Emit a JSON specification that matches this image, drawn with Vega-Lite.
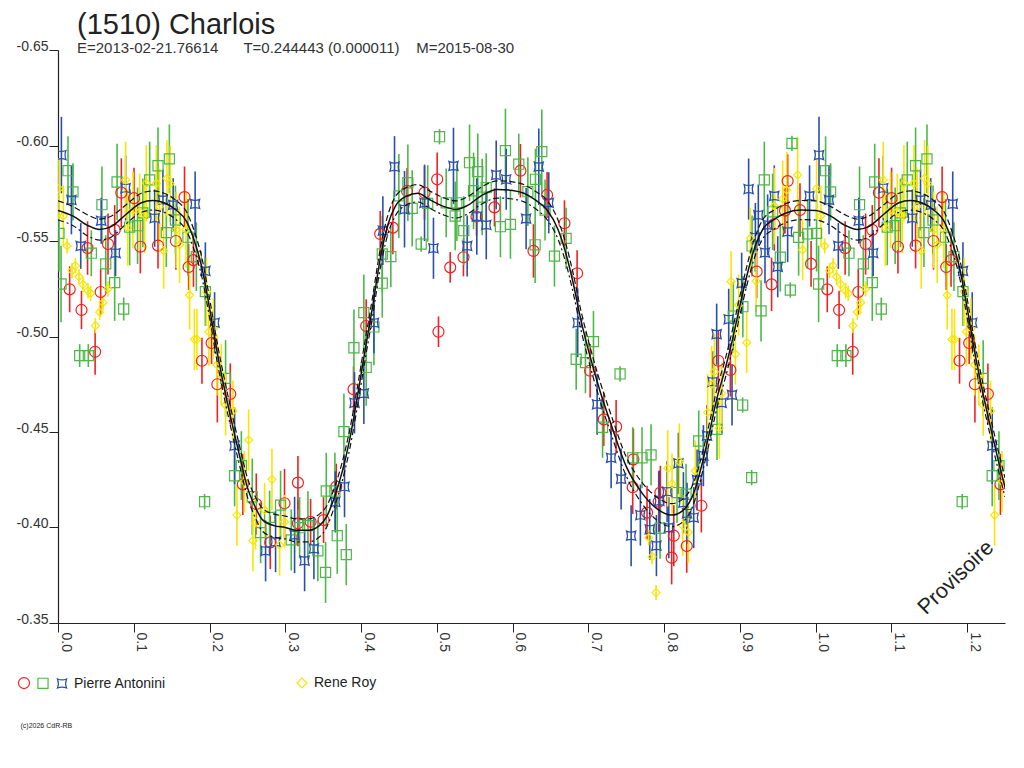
{
"$schema":"https://vega.github.io/schema/vega-lite/v6.json",
"width":947,"height":573,
"autosize":{"type":"none"},
"padding":{"left":58,"top":50,"right":19,"bottom":145},
"background":"white",
"title":{"text":"(1510) Charlois","subtitle":"E=2013-02-21.76614\u00a0\u00a0\u00a0\u00a0\u00a0\u00a0T=0.244443 (0.000011)\u00a0\u00a0\u00a0\u00a0M=2015-08-30","anchor":"start","frame":"group","offset":-17,"dx":19,"font":"Liberation Sans","fontSize":29,"fontWeight":"normal","color":"#222","subtitleFont":"Liberation Sans","subtitleFontSize":15,"subtitleColor":"#333","subtitlePadding":1},
"config":{"view":{"stroke":null},"axis":{"grid":false,"domainColor":"#222","tickColor":"#222","labelColor":"#333","labelFont":"Liberation Sans","labelFontSize":14,"titleFont":"Liberation Sans"}},
"resolve":{"legend":{"color":"independent","shape":"independent","size":"independent"}},
"datasets":{
"pts":[
{"s":"A1","p":0.0154,"m":-0.5247,"e":0.012},{"s":"A1","p":0.031,"m":-0.5139,"e":0.01},{"s":"A1","p":0.049,"m":-0.492,"e":0.012},{"s":"A1","p":0.039,"m":-0.5463,"e":0.014},{"s":"A1","p":0.0563,"m":-0.5233,"e":0.012},{"s":"A1","p":0.066,"m":-0.5484,"e":0.016},{"s":"A1","p":0.0748,"m":-0.5558,"e":0.013},{"s":"A1","p":0.0836,"m":-0.5753,"e":0.018},{"s":"A1","p":0.1003,"m":-0.5724,"e":0.016},{"s":"A1","p":0.1087,"m":-0.547,"e":0.014},{"s":"A1","p":0.132,"m":-0.5476,"e":0.012},{"s":"A1","p":0.1556,"m":-0.55,"e":0.015},{"s":"A1","p":0.167,"m":-0.573,"e":0.016},{"s":"A1","p":0.1724,"m":-0.5364,"e":0.012},{"s":"A1","p":0.1788,"m":-0.54,"e":0.014},{"s":"A1","p":0.19,"m":-0.4873,"e":0.012},{"s":"A1","p":0.2027,"m":-0.4966,"e":0.011},{"s":"A1","p":0.2103,"m":-0.475,"e":0.02},{"s":"A1","p":0.2274,"m":-0.4699,"e":0.016},{"s":"A1","p":0.244,"m":-0.4226,"e":0.016},{"s":"A1","p":0.2617,"m":-0.4123,"e":0.016},{"s":"A1","p":0.2802,"m":-0.3922,"e":0.014},{"s":"A1","p":0.299,"m":-0.4127,"e":0.018},{"s":"A1","p":0.3167,"m":-0.4235,"e":0.014},{"s":"A1","p":0.3167,"m":-0.4022,"e":0.012},{"s":"A1","p":0.3334,"m":-0.403,"e":0.012},{"s":"A1","p":0.3505,"m":-0.4039,"e":0.012},{"s":"A1","p":0.3673,"m":-0.4214,"e":0.012},{"s":"A1","p":0.3901,"m":-0.4724,"e":0.012},{"s":"A1","p":0.4068,"m":-0.5055,"e":0.014},{"s":"A1","p":0.4253,"m":-0.5537,"e":0.012},{"s":"A1","p":0.442,"m":-0.557,"e":0.014},{"s":"A1","p":0.4607,"m":-0.5762,"e":0.012},{"s":"A1","p":0.4838,"m":-0.5753,"e":0.014},{"s":"A1","p":0.5005,"m":-0.5823,"e":0.014},{"s":"A1","p":0.5022,"m":-0.5025,"e":0.008},{"s":"A1","p":0.5177,"m":-0.5362,"e":0.008},{"s":"A1","p":0.5352,"m":-0.5415,"e":0.01},{"s":"A1","p":0.5524,"m":-0.5628,"e":0.01},{"s":"A1","p":0.5761,"m":-0.5676,"e":0.01},{"s":"A1","p":0.6104,"m":-0.5868,"e":0.014},{"s":"A1","p":0.6276,"m":-0.5448,"e":0.014},{"s":"A1","p":0.6456,"m":-0.5741,"e":0.012},{"s":"A1","p":0.6685,"m":-0.5593,"e":0.012},{"s":"A1","p":0.6852,"m":-0.5331,"e":0.012},{"s":"A1","p":0.7024,"m":-0.4821,"e":0.014},{"s":"A1","p":0.7204,"m":-0.4566,"e":0.014},{"s":"A1","p":0.7367,"m":-0.4528,"e":0.014},{"s":"A1","p":0.7586,"m":-0.4211,"e":0.014},{"s":"A1","p":0.7595,"m":-0.4357,"e":0.016},{"s":"A1","p":0.7775,"m":-0.4078,"e":0.014},{"s":"A1","p":0.7929,"m":-0.4135,"e":0.016},{"s":"A1","p":0.7951,"m":-0.4183,"e":0.014},{"s":"A1","p":0.8128,"m":-0.3957,"e":0.016},{"s":"A1","p":0.81,"m":-0.3842,"e":0.014},{"s":"A1","p":0.8299,"m":-0.3903,"e":0.014},{"s":"A1","p":0.8492,"m":-0.4114,"e":0.014},{"s":"A1","p":0.8716,"m":-0.4873,"e":0.016},{"s":"A1","p":0.8875,"m":-0.4825,"e":0.014},{"s":"A1","p":0.9222,"m":-0.534,"e":0.014},{"s":"A1","p":0.9419,"m":-0.5273,"e":0.014},{"s":"A1","p":0.9455,"m":-0.5589,"e":0.014},{"s":"A1","p":0.9596,"m":-0.5659,"e":0.012},{"s":"A1","p":0.9631,"m":-0.5814,"e":0.014},{"s":"A1","p":0.9794,"m":-0.5662,"e":0.014},{"s":"A1","p":0.994,"m":-0.538,"e":0.012},
{"s":"A1","p":1.0154,"m":-0.5247,"e":0.012},{"s":"A1","p":1.031,"m":-0.5139,"e":0.01},{"s":"A1","p":1.049,"m":-0.492,"e":0.012},{"s":"A1","p":1.039,"m":-0.5463,"e":0.014},{"s":"A1","p":1.0563,"m":-0.5233,"e":0.012},{"s":"A1","p":1.066,"m":-0.5484,"e":0.016},{"s":"A1","p":1.0748,"m":-0.5558,"e":0.013},{"s":"A1","p":1.0836,"m":-0.5753,"e":0.018},{"s":"A1","p":1.1003,"m":-0.5724,"e":0.016},{"s":"A1","p":1.1087,"m":-0.547,"e":0.014},{"s":"A1","p":1.132,"m":-0.5476,"e":0.012},{"s":"A1","p":1.1556,"m":-0.55,"e":0.015},{"s":"A1","p":1.167,"m":-0.573,"e":0.016},{"s":"A1","p":1.1724,"m":-0.5364,"e":0.012},{"s":"A1","p":1.1788,"m":-0.54,"e":0.014},{"s":"A1","p":1.19,"m":-0.4873,"e":0.012},{"s":"A1","p":1.2027,"m":-0.4966,"e":0.011},{"s":"A1","p":1.2103,"m":-0.475,"e":0.02},{"s":"A1","p":1.2274,"m":-0.4699,"e":0.016},{"s":"A1","p":1.244,"m":-0.4226,"e":0.016},
{"s":"A2","p":0.0013,"m":-0.554,"e":0.02},{"s":"A2","p":0.004,"m":-0.5275,"e":0.02},{"s":"A2","p":0.0132,"m":-0.5868,"e":0.018},{"s":"A2","p":0.0198,"m":-0.5757,"e":0.015},{"s":"A2","p":0.0286,"m":-0.49,"e":0.006},{"s":"A2","p":0.04,"m":-0.49,"e":0.006},{"s":"A2","p":0.044,"m":-0.5436,"e":0.012},{"s":"A2","p":0.058,"m":-0.569,"e":0.02},{"s":"A2","p":0.063,"m":-0.538,"e":0.015},{"s":"A2","p":0.0748,"m":-0.5282,"e":0.02},{"s":"A2","p":0.078,"m":-0.5809,"e":0.02},{"s":"A2","p":0.0867,"m":-0.5144,"e":0.006},{"s":"A2","p":0.0946,"m":-0.5573,"e":0.02},{"s":"A2","p":0.105,"m":-0.558,"e":0.02},{"s":"A2","p":0.112,"m":-0.5647,"e":0.018},{"s":"A2","p":0.121,"m":-0.582,"e":0.02},{"s":"A2","p":0.132,"m":-0.5894,"e":0.02},{"s":"A2","p":0.143,"m":-0.5544,"e":0.018},{"s":"A2","p":0.147,"m":-0.593,"e":0.018},{"s":"A2","p":0.155,"m":-0.561,"e":0.018},{"s":"A2","p":0.1715,"m":-0.552,"e":0.02},{"s":"A2","p":0.1826,"m":-0.5418,"e":0.018},{"s":"A2","p":0.1935,"m":-0.4135,"e":0.004},{"s":"A2","p":0.1945,"m":-0.5235,"e":0.018},{"s":"A2","p":0.2212,"m":-0.4781,"e":0.02},{"s":"A2","p":0.2331,"m":-0.4271,"e":0.016},{"s":"A2","p":0.242,"m":-0.4324,"e":0.018},{"s":"A2","p":0.2564,"m":-0.4161,"e":0.02},{"s":"A2","p":0.2674,"m":-0.3973,"e":0.016},{"s":"A2","p":0.2793,"m":-0.4053,"e":0.014},{"s":"A2","p":0.2938,"m":-0.4117,"e":0.018},{"s":"A2","p":0.3079,"m":-0.3935,"e":0.016},{"s":"A2","p":0.3189,"m":-0.3999,"e":0.016},{"s":"A2","p":0.3299,"m":-0.401,"e":0.018},{"s":"A2","p":0.343,"m":-0.3878,"e":0.016},{"s":"A2","p":0.3532,"m":-0.3765,"e":0.016},{"s":"A2","p":0.3541,"m":-0.4191,"e":0.02},{"s":"A2","p":0.3655,"m":-0.4191,"e":0.02},{"s":"A2","p":0.3686,"m":-0.3957,"e":0.02},{"s":"A2","p":0.3805,"m":-0.3858,"e":0.016},{"s":"A2","p":0.3774,"m":-0.4502,"e":0.02},{"s":"A2","p":0.3906,"m":-0.4941,"e":0.02},{"s":"A2","p":0.4068,"m":-0.4838,"e":0.02},{"s":"A2","p":0.4037,"m":-0.5125,"e":0.02},{"s":"A2","p":0.417,"m":-0.505,"e":0.02},{"s":"A2","p":0.428,"m":-0.5432,"e":0.02},{"s":"A2","p":0.4393,"m":-0.5418,"e":0.016},{"s":"A2","p":0.428,"m":-0.5279,"e":0.018},{"s":"A2","p":0.4499,"m":-0.5736,"e":0.022},{"s":"A2","p":0.4618,"m":-0.5805,"e":0.02},{"s":"A2","p":0.4675,"m":-0.5671,"e":0.02},{"s":"A2","p":0.4794,"m":-0.5484,"e":0.004},{"s":"A2","p":0.488,"m":-0.5697,"e":0.02},{"s":"A2","p":0.5036,"m":-0.6046,"e":0.004},{"s":"A2","p":0.5124,"m":-0.57,"e":0.018},{"s":"A2","p":0.5265,"m":-0.57,"e":0.02},{"s":"A2","p":0.5243,"m":-0.5631,"e":0.018},{"s":"A2","p":0.5356,"m":-0.5554,"e":0.018},{"s":"A2","p":0.5432,"m":-0.591,"e":0.02},{"s":"A2","p":0.5541,"m":-0.5863,"e":0.02},{"s":"A2","p":0.5485,"m":-0.5763,"e":0.02},{"s":"A2","p":0.5652,"m":-0.5779,"e":0.018},{"s":"A2","p":0.5599,"m":-0.573,"e":0.02},{"s":"A2","p":0.584,"m":-0.5575,"e":0.016},{"s":"A2","p":0.5906,"m":-0.5973,"e":0.022},{"s":"A2","p":0.5972,"m":-0.5587,"e":0.018},{"s":"A2","p":0.6082,"m":-0.5902,"e":0.016},{"s":"A2","p":0.6202,"m":-0.5758,"e":0.018},{"s":"A2","p":0.6302,"m":-0.5823,"e":0.016},{"s":"A2","p":0.6386,"m":-0.5968,"e":0.022},{"s":"A2","p":0.6298,"m":-0.548,"e":0.02},{"s":"A2","p":0.6429,"m":-0.5662,"e":0.016},{"s":"A2","p":0.6553,"m":-0.5421,"e":0.016},{"s":"A2","p":0.6707,"m":-0.5514,"e":0.016},{"s":"A2","p":0.684,"m":-0.4881,"e":0.016},{"s":"A2","p":0.6962,"m":-0.4863,"e":0.016},{"s":"A2","p":0.7068,"m":-0.4973,"e":0.016},{"s":"A2","p":0.7188,"m":-0.4525,"e":0.016},{"s":"A2","p":0.7419,"m":-0.4804,"e":0.004},{"s":"A2","p":0.7586,"m":-0.4365,"e":0.016},{"s":"A2","p":0.7709,"m":-0.4365,"e":0.016},{"s":"A2","p":0.7828,"m":-0.438,"e":0.016},{"s":"A2","p":0.7947,"m":-0.3996,"e":0.016},{"s":"A2","p":0.8171,"m":-0.4183,"e":0.016},{"s":"A2","p":0.829,"m":-0.4174,"e":0.016},{"s":"A2","p":0.8457,"m":-0.4453,"e":0.016},{"s":"A2","p":0.8699,"m":-0.4514,"e":0.016},{"s":"A2","p":0.8914,"m":-0.5107,"e":0.018},{"s":"A2","p":0.904,"m":-0.5156,"e":0.016},{"s":"A2","p":0.9037,"m":-0.4641,"e":0.004},{"s":"A2","p":0.9156,"m":-0.4261,"e":0.004},{"s":"A2","p":0.9161,"m":-0.5474,"e":0.016},{"s":"A2","p":0.928,"m":-0.5134,"e":0.016},{"s":"A2","p":0.9323,"m":-0.582,"e":0.02},{"s":"A2","p":0.9433,"m":-0.5653,"e":0.02},{"s":"A2","p":0.9534,"m":-0.5415,"e":0.018},{"s":"A2","p":0.9666,"m":-0.5243,"e":0.004},{"s":"A2","p":0.9688,"m":-0.6011,"e":0.004},{"s":"A2","p":0.9776,"m":-0.5519,"e":0.02},{"s":"A2","p":0.9895,"m":-0.5537,"e":0.018},
{"s":"A2","p":1.0013,"m":-0.554,"e":0.02},{"s":"A2","p":1.004,"m":-0.5275,"e":0.02},{"s":"A2","p":1.0132,"m":-0.5868,"e":0.018},{"s":"A2","p":1.0198,"m":-0.5757,"e":0.015},{"s":"A2","p":1.0286,"m":-0.49,"e":0.006},{"s":"A2","p":1.04,"m":-0.49,"e":0.006},{"s":"A2","p":1.044,"m":-0.5436,"e":0.012},{"s":"A2","p":1.058,"m":-0.569,"e":0.02},{"s":"A2","p":1.063,"m":-0.538,"e":0.015},{"s":"A2","p":1.0748,"m":-0.5282,"e":0.02},{"s":"A2","p":1.078,"m":-0.5809,"e":0.02},{"s":"A2","p":1.0867,"m":-0.5144,"e":0.006},{"s":"A2","p":1.0946,"m":-0.5573,"e":0.02},{"s":"A2","p":1.105,"m":-0.558,"e":0.02},{"s":"A2","p":1.112,"m":-0.5647,"e":0.018},{"s":"A2","p":1.121,"m":-0.582,"e":0.02},{"s":"A2","p":1.132,"m":-0.5894,"e":0.02},{"s":"A2","p":1.143,"m":-0.5544,"e":0.018},{"s":"A2","p":1.147,"m":-0.593,"e":0.018},{"s":"A2","p":1.155,"m":-0.561,"e":0.018},{"s":"A2","p":1.1715,"m":-0.552,"e":0.02},{"s":"A2","p":1.1826,"m":-0.5418,"e":0.018},{"s":"A2","p":1.1935,"m":-0.4135,"e":0.004},{"s":"A2","p":1.1945,"m":-0.5235,"e":0.018},{"s":"A2","p":1.2212,"m":-0.4781,"e":0.02},{"s":"A2","p":1.2331,"m":-0.4271,"e":0.016},{"s":"A2","p":1.242,"m":-0.4324,"e":0.018},
{"s":"A3","p":0.0045,"m":-0.595,"e":0.02},{"s":"A3","p":0.0177,"m":-0.5715,"e":0.018},{"s":"A3","p":0.03,"m":-0.5474,"e":0.012},{"s":"A3","p":0.057,"m":-0.5606,"e":0.012},{"s":"A3","p":0.076,"m":-0.5437,"e":0.012},{"s":"A3","p":0.0893,"m":-0.5777,"e":0.017},{"s":"A3","p":0.1276,"m":-0.562,"e":0.015},{"s":"A3","p":0.1385,"m":-0.5715,"e":0.016},{"s":"A3","p":0.152,"m":-0.5689,"e":0.014},{"s":"A3","p":0.181,"m":-0.5694,"e":0.017},{"s":"A3","p":0.1945,"m":-0.5343,"e":0.015},{"s":"A3","p":0.2067,"m":-0.5072,"e":0.016},{"s":"A3","p":0.2331,"m":-0.4428,"e":0.02},{"s":"A3","p":0.274,"m":-0.3878,"e":0.016},{"s":"A3","p":0.2872,"m":-0.3926,"e":0.016},{"s":"A3","p":0.3123,"m":-0.3961,"e":0.02},{"s":"A3","p":0.3255,"m":-0.3826,"e":0.016},{"s":"A3","p":0.3378,"m":-0.3889,"e":0.016},{"s":"A3","p":0.366,"m":-0.4134,"e":0.016},{"s":"A3","p":0.3782,"m":-0.4214,"e":0.016},{"s":"A3","p":0.3914,"m":-0.4653,"e":0.016},{"s":"A3","p":0.4037,"m":-0.4702,"e":0.016},{"s":"A3","p":0.417,"m":-0.5072,"e":0.016},{"s":"A3","p":0.4288,"m":-0.5554,"e":0.018},{"s":"A3","p":0.4442,"m":-0.5889,"e":0.016},{"s":"A3","p":0.4574,"m":-0.5666,"e":0.02},{"s":"A3","p":0.4838,"m":-0.57,"e":0.02},{"s":"A3","p":0.4956,"m":-0.5462,"e":0.016},{"s":"A3","p":0.522,"m":-0.5893,"e":0.02},{"s":"A3","p":0.5401,"m":-0.5474,"e":0.016},{"s":"A3","p":0.5528,"m":-0.5628,"e":0.02},{"s":"A3","p":0.5653,"m":-0.5584,"e":0.018},{"s":"A3","p":0.5784,"m":-0.5846,"e":0.018},{"s":"A3","p":0.5916,"m":-0.5823,"e":0.016},{"s":"A3","p":0.6179,"m":-0.5617,"e":0.016},{"s":"A3","p":0.6346,"m":-0.5889,"e":0.02},{"s":"A3","p":0.6478,"m":-0.57,"e":0.016},{"s":"A3","p":0.686,"m":-0.5072,"e":0.018},{"s":"A3","p":0.7116,"m":-0.4645,"e":0.016},{"s":"A3","p":0.7301,"m":-0.4365,"e":0.016},{"s":"A3","p":0.7433,"m":-0.4254,"e":0.016},{"s":"A3","p":0.7565,"m":-0.3957,"e":0.016},{"s":"A3","p":0.7687,"m":-0.4065,"e":0.016},{"s":"A3","p":0.7811,"m":-0.399,"e":0.016},{"s":"A3","p":0.7899,"m":-0.3905,"e":0.016},{"s":"A3","p":0.7938,"m":-0.4139,"e":0.016},{"s":"A3","p":0.804,"m":-0.4188,"e":0.016},{"s":"A3","p":0.8062,"m":-0.3999,"e":0.016},{"s":"A3","p":0.8189,"m":-0.4336,"e":0.016},{"s":"A3","p":0.8255,"m":-0.413,"e":0.016},{"s":"A3","p":0.8303,"m":-0.4074,"e":0.016},{"s":"A3","p":0.8391,"m":-0.4052,"e":0.016},{"s":"A3","p":0.8435,"m":-0.4249,"e":0.016},{"s":"A3","p":0.8519,"m":-0.4376,"e":0.016},{"s":"A3","p":0.8567,"m":-0.4481,"e":0.016},{"s":"A3","p":0.8641,"m":-0.4763,"e":0.016},{"s":"A3","p":0.876,"m":-0.4653,"e":0.016},{"s":"A3","p":0.8897,"m":-0.4694,"e":0.016},{"s":"A3","p":0.8694,"m":-0.5012,"e":0.016},{"s":"A3","p":0.8853,"m":-0.509,"e":0.016},{"s":"A3","p":0.9024,"m":-0.5279,"e":0.016},{"s":"A3","p":0.9116,"m":-0.5772,"e":0.016},{"s":"A3","p":0.9205,"m":-0.5519,"e":0.018},{"s":"A3","p":0.9244,"m":-0.5636,"e":0.016},{"s":"A3","p":0.9332,"m":-0.5439,"e":0.016},{"s":"A3","p":0.9367,"m":-0.5584,"e":0.016},{"s":"A3","p":0.9455,"m":-0.5736,"e":0.016},{"s":"A3","p":0.95,"m":-0.5365,"e":0.016},{"s":"A3","p":0.9631,"m":-0.5549,"e":0.016},{"s":"A3","p":0.992,"m":-0.5736,"e":0.016},
{"s":"A3","p":1.0045,"m":-0.595,"e":0.02},{"s":"A3","p":1.0177,"m":-0.5715,"e":0.018},{"s":"A3","p":1.03,"m":-0.5474,"e":0.012},{"s":"A3","p":1.057,"m":-0.5606,"e":0.012},{"s":"A3","p":1.076,"m":-0.5437,"e":0.012},{"s":"A3","p":1.0893,"m":-0.5777,"e":0.017},{"s":"A3","p":1.1276,"m":-0.562,"e":0.015},{"s":"A3","p":1.1385,"m":-0.5715,"e":0.016},{"s":"A3","p":1.152,"m":-0.5689,"e":0.014},{"s":"A3","p":1.181,"m":-0.5694,"e":0.017},{"s":"A3","p":1.1945,"m":-0.5343,"e":0.015},{"s":"A3","p":1.2067,"m":-0.5072,"e":0.016},{"s":"A3","p":1.2331,"m":-0.4428,"e":0.02},
{"s":"R","p":0.0013,"m":-0.5774,"e":0.016},{"s":"R","p":0.007,"m":-0.5631,"e":0.016},{"s":"R","p":0.012,"m":-0.5474,"e":0.004},{"s":"R","p":0.0185,"m":-0.5345,"e":0.004},{"s":"R","p":0.023,"m":-0.5371,"e":0.004},{"s":"R","p":0.0277,"m":-0.5313,"e":0.004},{"s":"R","p":0.033,"m":-0.5273,"e":0.004},{"s":"R","p":0.0396,"m":-0.524,"e":0.004},{"s":"R","p":0.043,"m":-0.5226,"e":0.004},{"s":"R","p":0.0493,"m":-0.5057,"e":0.004},{"s":"R","p":0.055,"m":-0.5127,"e":0.004},{"s":"R","p":0.0594,"m":-0.5177,"e":0.004},{"s":"R","p":0.066,"m":-0.525,"e":0.004},{"s":"R","p":0.0893,"m":-0.582,"e":0.02},{"s":"R","p":0.092,"m":-0.557,"e":0.02},{"s":"R","p":0.099,"m":-0.5662,"e":0.02},{"s":"R","p":0.1078,"m":-0.5653,"e":0.02},{"s":"R","p":0.1144,"m":-0.5636,"e":0.02},{"s":"R","p":0.1166,"m":-0.5802,"e":0.02},{"s":"R","p":0.1298,"m":-0.5802,"e":0.02},{"s":"R","p":0.134,"m":-0.568,"e":0.02},{"s":"R","p":0.1394,"m":-0.545,"e":0.02},{"s":"R","p":0.1438,"m":-0.5828,"e":0.02},{"s":"R","p":0.1482,"m":-0.58,"e":0.02},{"s":"R","p":0.156,"m":-0.5558,"e":0.02},{"s":"R","p":0.1605,"m":-0.548,"e":0.02},{"s":"R","p":0.169,"m":-0.556,"e":0.02},{"s":"R","p":0.1737,"m":-0.5217,"e":0.018},{"s":"R","p":0.18,"m":-0.4985,"e":0.016},{"s":"R","p":0.1834,"m":-0.4985,"e":0.016},{"s":"R","p":0.196,"m":-0.5235,"e":0.018},{"s":"R","p":0.199,"m":-0.5025,"e":0.018},{"s":"R","p":0.205,"m":-0.504,"e":0.016},{"s":"R","p":0.2098,"m":-0.4851,"e":0.016},{"s":"R","p":0.2155,"m":-0.48,"e":0.016},{"s":"R","p":0.2212,"m":-0.4641,"e":0.016},{"s":"R","p":0.2309,"m":-0.461,"e":0.016},{"s":"R","p":0.2362,"m":-0.4065,"e":0.016},{"s":"R","p":0.246,"m":-0.424,"e":0.016},{"s":"R","p":0.2516,"m":-0.4458,"e":0.016},{"s":"R","p":0.2573,"m":-0.3931,"e":0.016},{"s":"R","p":0.2608,"m":-0.4025,"e":0.014},{"s":"R","p":0.2727,"m":-0.4092,"e":0.014},{"s":"R","p":0.2824,"m":-0.4252,"e":0.016},{"s":"R","p":0.2925,"m":-0.3908,"e":0.016},{"s":"R","p":0.299,"m":-0.403,"e":0.014},{"s":"R","p":0.7797,"m":-0.3947,"e":0.004},{"s":"R","p":0.7841,"m":-0.3847,"e":0.004},{"s":"R","p":0.7894,"m":-0.3659,"e":0.004},{"s":"R","p":0.8048,"m":-0.431,"e":0.02},{"s":"R","p":0.8105,"m":-0.4228,"e":0.016},{"s":"R","p":0.8202,"m":-0.4345,"e":0.02},{"s":"R","p":0.8246,"m":-0.401,"e":0.016},{"s":"R","p":0.8321,"m":-0.3975,"e":0.016},{"s":"R","p":0.8413,"m":-0.4296,"e":0.016},{"s":"R","p":0.8575,"m":-0.4603,"e":0.02},{"s":"R","p":0.8628,"m":-0.475,"e":0.02},{"s":"R","p":0.8663,"m":-0.4816,"e":0.02},{"s":"R","p":0.8729,"m":-0.452,"e":0.016},{"s":"R","p":0.876,"m":-0.4702,"e":0.016},{"s":"R","p":0.8884,"m":-0.5287,"e":0.016},{"s":"R","p":0.8941,"m":-0.4908,"e":0.016},{"s":"R","p":0.909,"m":-0.4968,"e":0.016},{"s":"R","p":0.8984,"m":-0.5165,"e":0.016},{"s":"R","p":0.9139,"m":-0.5514,"e":0.016},{"s":"R","p":0.9214,"m":-0.529,"e":0.016},{"s":"R","p":0.9455,"m":-0.5683,"e":0.02},{"s":"R","p":0.9566,"m":-0.572,"e":0.02},{"s":"R","p":0.9618,"m":-0.5767,"e":0.02},{"s":"R","p":0.9763,"m":-0.5846,"e":0.02},{"s":"R","p":0.9829,"m":-0.5453,"e":0.016},
{"s":"R","p":1.0013,"m":-0.5774,"e":0.016},{"s":"R","p":1.007,"m":-0.5631,"e":0.016},{"s":"R","p":1.012,"m":-0.5474,"e":0.004},{"s":"R","p":1.0185,"m":-0.5345,"e":0.004},{"s":"R","p":1.023,"m":-0.5371,"e":0.004},{"s":"R","p":1.0277,"m":-0.5313,"e":0.004},{"s":"R","p":1.033,"m":-0.5273,"e":0.004},{"s":"R","p":1.0396,"m":-0.524,"e":0.004},{"s":"R","p":1.043,"m":-0.5226,"e":0.004},{"s":"R","p":1.0493,"m":-0.5057,"e":0.004},{"s":"R","p":1.055,"m":-0.5127,"e":0.004},{"s":"R","p":1.0594,"m":-0.5177,"e":0.004},{"s":"R","p":1.066,"m":-0.525,"e":0.004},{"s":"R","p":1.0893,"m":-0.582,"e":0.02},{"s":"R","p":1.092,"m":-0.557,"e":0.02},{"s":"R","p":1.099,"m":-0.5662,"e":0.02},{"s":"R","p":1.1078,"m":-0.5653,"e":0.02},{"s":"R","p":1.1144,"m":-0.5636,"e":0.02},{"s":"R","p":1.1166,"m":-0.5802,"e":0.02},{"s":"R","p":1.1298,"m":-0.5802,"e":0.02},{"s":"R","p":1.134,"m":-0.568,"e":0.02},{"s":"R","p":1.1394,"m":-0.545,"e":0.02},{"s":"R","p":1.1438,"m":-0.5828,"e":0.02},{"s":"R","p":1.1482,"m":-0.58,"e":0.02},{"s":"R","p":1.156,"m":-0.5558,"e":0.02},{"s":"R","p":1.1605,"m":-0.548,"e":0.02},{"s":"R","p":1.169,"m":-0.556,"e":0.02},{"s":"R","p":1.1737,"m":-0.5217,"e":0.018},{"s":"R","p":1.18,"m":-0.4985,"e":0.016},{"s":"R","p":1.1834,"m":-0.4985,"e":0.016},{"s":"R","p":1.196,"m":-0.5235,"e":0.018},{"s":"R","p":1.199,"m":-0.5025,"e":0.018},{"s":"R","p":1.205,"m":-0.504,"e":0.016},{"s":"R","p":1.2098,"m":-0.4851,"e":0.016},{"s":"R","p":1.2155,"m":-0.48,"e":0.016},{"s":"R","p":1.2212,"m":-0.4641,"e":0.016},{"s":"R","p":1.2309,"m":-0.461,"e":0.016},{"s":"R","p":1.2362,"m":-0.4065,"e":0.016},{"s":"R","p":1.246,"m":-0.424,"e":0.016}
],
"fit":[
{"p":0.0,"f":-0.566,"u":-0.571,"l":-0.561},{"p":0.02,"f":-0.563,"u":-0.568,"l":-0.558},{"p":0.04,"f":-0.558,"u":-0.5635,"l":-0.5525},{"p":0.055,"f":-0.556,"u":-0.5615,"l":-0.5505},{"p":0.07,"f":-0.5575,"u":-0.563,"l":-0.552},{"p":0.09,"f":-0.564,"u":-0.569,"l":-0.559},{"p":0.11,"f":-0.57,"u":-0.575,"l":-0.565},{"p":0.125,"f":-0.5712,"u":-0.5762,"l":-0.5662},{"p":0.14,"f":-0.57,"u":-0.575,"l":-0.565},{"p":0.155,"f":-0.5665,"u":-0.5715,"l":-0.5615},{"p":0.17,"f":-0.56,"u":-0.565,"l":-0.555},{"p":0.18,"f":-0.55,"u":-0.555,"l":-0.545},{"p":0.19,"f":-0.536,"u":-0.541,"l":-0.531},{"p":0.2,"f":-0.515,"u":-0.52,"l":-0.51},{"p":0.21,"f":-0.492,"u":-0.497,"l":-0.487},{"p":0.22,"f":-0.472,"u":-0.477,"l":-0.467},{"p":0.23,"f":-0.454,"u":-0.459,"l":-0.449},{"p":0.24,"f":-0.437,"u":-0.442,"l":-0.432},{"p":0.25,"f":-0.421,"u":-0.426,"l":-0.416},{"p":0.26,"f":-0.411,"u":-0.4165,"l":-0.4055},{"p":0.27,"f":-0.404,"u":-0.41,"l":-0.398},{"p":0.285,"f":-0.401,"u":-0.407,"l":-0.395},{"p":0.3,"f":-0.4,"u":-0.406,"l":-0.394},{"p":0.315,"f":-0.3985,"u":-0.4045,"l":-0.3925},{"p":0.33,"f":-0.3985,"u":-0.4045,"l":-0.3925},{"p":0.345,"f":-0.401,"u":-0.407,"l":-0.395},{"p":0.355,"f":-0.406,"u":-0.4115,"l":-0.4005},{"p":0.365,"f":-0.416,"u":-0.421,"l":-0.411},{"p":0.375,"f":-0.429,"u":-0.434,"l":-0.424},{"p":0.385,"f":-0.446,"u":-0.451,"l":-0.441},{"p":0.395,"f":-0.468,"u":-0.473,"l":-0.463},{"p":0.405,"f":-0.492,"u":-0.497,"l":-0.487},{"p":0.415,"f":-0.515,"u":-0.52,"l":-0.51},{"p":0.425,"f":-0.54,"u":-0.545,"l":-0.535},{"p":0.435,"f":-0.558,"u":-0.563,"l":-0.553},{"p":0.445,"f":-0.568,"u":-0.573,"l":-0.563},{"p":0.46,"f":-0.5735,"u":-0.578,"l":-0.569},{"p":0.475,"f":-0.575,"u":-0.5795,"l":-0.5705},{"p":0.49,"f":-0.5718,"u":-0.5763,"l":-0.5673},{"p":0.51,"f":-0.568,"u":-0.5725,"l":-0.5635},{"p":0.525,"f":-0.5665,"u":-0.571,"l":-0.562},{"p":0.54,"f":-0.5685,"u":-0.573,"l":-0.564},{"p":0.56,"f":-0.574,"u":-0.5785,"l":-0.5695},{"p":0.58,"f":-0.577,"u":-0.5815,"l":-0.5725},{"p":0.6,"f":-0.5765,"u":-0.581,"l":-0.572},{"p":0.615,"f":-0.575,"u":-0.5795,"l":-0.5705},{"p":0.63,"f":-0.5715,"u":-0.576,"l":-0.567},{"p":0.645,"f":-0.5665,"u":-0.5715,"l":-0.5615},{"p":0.66,"f":-0.556,"u":-0.561,"l":-0.551},{"p":0.67,"f":-0.544,"u":-0.549,"l":-0.539},{"p":0.68,"f":-0.528,"u":-0.533,"l":-0.523},{"p":0.69,"f":-0.509,"u":-0.514,"l":-0.504},{"p":0.7,"f":-0.493,"u":-0.498,"l":-0.488},{"p":0.715,"f":-0.472,"u":-0.477,"l":-0.467},{"p":0.73,"f":-0.454,"u":-0.459,"l":-0.449},{"p":0.75,"f":-0.432,"u":-0.437,"l":-0.427},{"p":0.77,"f":-0.4185,"u":-0.424,"l":-0.413},{"p":0.79,"f":-0.41,"u":-0.416,"l":-0.404},{"p":0.81,"f":-0.4065,"u":-0.4125,"l":-0.4005},{"p":0.825,"f":-0.409,"u":-0.415,"l":-0.403},{"p":0.84,"f":-0.419,"u":-0.4245,"l":-0.4135},{"p":0.85,"f":-0.433,"u":-0.438,"l":-0.428},{"p":0.86,"f":-0.45,"u":-0.455,"l":-0.445},{"p":0.87,"f":-0.468,"u":-0.473,"l":-0.463},{"p":0.88,"f":-0.482,"u":-0.487,"l":-0.477},{"p":0.89,"f":-0.498,"u":-0.503,"l":-0.493},{"p":0.9,"f":-0.516,"u":-0.521,"l":-0.511},{"p":0.91,"f":-0.533,"u":-0.538,"l":-0.528},{"p":0.92,"f":-0.547,"u":-0.552,"l":-0.542},{"p":0.93,"f":-0.556,"u":-0.561,"l":-0.551},{"p":0.945,"f":-0.5612,"u":-0.5662,"l":-0.5562},{"p":0.96,"f":-0.5645,"u":-0.5695,"l":-0.5595},{"p":0.98,"f":-0.5662,"u":-0.5712,"l":-0.5612},{"p":1.0,"f":-0.566,"u":-0.571,"l":-0.561},{"p":1.02,"f":-0.563,"u":-0.568,"l":-0.558},{"p":1.04,"f":-0.558,"u":-0.5635,"l":-0.5525},{"p":1.055,"f":-0.556,"u":-0.5615,"l":-0.5505},{"p":1.07,"f":-0.5575,"u":-0.563,"l":-0.552},{"p":1.09,"f":-0.564,"u":-0.569,"l":-0.559},{"p":1.11,"f":-0.57,"u":-0.575,"l":-0.565},{"p":1.125,"f":-0.5712,"u":-0.5762,"l":-0.5662},{"p":1.14,"f":-0.57,"u":-0.575,"l":-0.565},{"p":1.155,"f":-0.5665,"u":-0.5715,"l":-0.5615},{"p":1.17,"f":-0.56,"u":-0.565,"l":-0.555},{"p":1.18,"f":-0.55,"u":-0.555,"l":-0.545},{"p":1.19,"f":-0.536,"u":-0.541,"l":-0.531},{"p":1.2,"f":-0.515,"u":-0.52,"l":-0.51},{"p":1.21,"f":-0.492,"u":-0.497,"l":-0.487},{"p":1.22,"f":-0.472,"u":-0.477,"l":-0.467},{"p":1.23,"f":-0.454,"u":-0.459,"l":-0.449},{"p":1.24,"f":-0.437,"u":-0.442,"l":-0.432},{"p":1.25,"f":-0.421,"u":-0.426,"l":-0.416}
],
"wm":[{"t":"Provisoire","p":1.1856,"m":-0.3736}]},
"layer":[
{"data":{"name":"pts"},
 "mark":{"type":"errorbar","thickness":1.6,"clip":true},
 "encoding":{
  "x":{"field":"p","type":"quantitative","scale":{"domain":[0,1.25],"nice":false,"zero":false},
   "axis":{"values":[0,0.05,0.1,0.15,0.2,0.25,0.3,0.35,0.4,0.45,0.5,0.55,0.6,0.65,0.7,0.75,0.8,0.85,0.9,0.95,1,1.05,1.1,1.15,1.2,1.25],
    "labelExpr":"round(datum.value*20)%2==0 ? format(datum.value,'.1f') : ''","labelAngle":90,"labelAlign":"left","labelBaseline":"bottom","labelPadding":0,"labelFlush":false,"labelOverlap":false,"tickSize":9,"domainWidth":1.2,
    "title":"(c)2026 CdR-RB","titleFontSize":7,"titleColor":"#222","titleFontWeight":"normal","titleX":-38,"titleY":102,"titleAlign":"left","titleBaseline":"middle","titleAnchor":"start"}},
  "y":{"field":"m","type":"quantitative","scale":{"domain":[-0.65,-0.35],"reverse":true,"nice":false,"zero":false},
   "axis":{"values":[-0.65,-0.6,-0.55,-0.5,-0.45,-0.4,-0.35],"labelExpr":"'-' + format(abs(datum.value),'.2f')","tickSize":9,"labelPadding":1,"labelBaseline":"alphabetic","labelFlush":false,"labelOverlap":false,"domainWidth":1.2,"title":null}},
  "yError":{"field":"e"},
  "color":{"field":"s","type":"nominal","scale":{"domain":["A1","A2","A3","R"],"range":["#ee2222","#4db848","#2b4fa8","#f7e600"]},
   "legend":{"values":["R"],"orient":"none","legendX":237,"legendY":626,"direction":"horizontal","title":null,"padding":0,"symbolType":"diamond","symbolSize":100,"symbolStrokeWidth":1.2,"symbolFillColor":"transparent","labelFont":"Liberation Sans","labelFontSize":14,"labelColor":"#222","labelOffset":5,"labelExpr":"'Rene Roy'"}}
 }},
{"data":{"name":"pts"},
 "mark":{"type":"point","filled":false,"strokeWidth":1.2,"opacity":1,"clip":true},
 "encoding":{
  "x":{"field":"p","type":"quantitative"},
  "y":{"field":"m","type":"quantitative"},
  "color":{"field":"s","type":"nominal","scale":{"domain":["A1","A2","A3","R"],"range":["#ee2222","#4db848","#2b4fa8","#f7e600"]},
   "legend":{"values":["A1","A2","A3"],"orient":"none","legendX":-41,"legendY":626,"direction":"horizontal","title":null,"padding":0,"columnPadding":-14,"symbolSize":100,"symbolStrokeWidth":1.2,"symbolFillColor":"transparent","labelFont":"Liberation Sans","labelFontSize":14,"labelColor":"#222","labelOffset":5,"labelLimit":0,
    "labelExpr":"datum.label=='A3' ? 'Pierre Antonini' : ''"}},
  "shape":{"field":"s","type":"nominal","scale":{"domain":["A1","A2","A3","R"],"range":["circle","square","M-1,-1Q0,-0.6,1,-1Q0.6,0,1,1Q0,0.6,-1,1Q-0.6,0,-1,-1Z","diamond"]},
   "legend":{"values":["A1","A2","A3"]}},
  "size":{"field":"s","type":"nominal","scale":{"domain":["A1","A2","A3","R"],"range":[121,64,60,150]},"legend":null}
 }},
{"data":{"name":"fit"},"mark":{"type":"line","color":"#111","strokeWidth":1.5,"interpolate":"monotone","clip":true},
 "encoding":{"x":{"field":"p","type":"quantitative"},"y":{"field":"f","type":"quantitative"}}},
{"data":{"name":"fit"},"mark":{"type":"line","color":"#111","strokeWidth":1.2,"strokeDash":[6,3],"interpolate":"monotone","clip":true},
 "encoding":{"x":{"field":"p","type":"quantitative"},"y":{"field":"u","type":"quantitative"}}},
{"data":{"name":"fit"},"mark":{"type":"line","color":"#111","strokeWidth":1.2,"strokeDash":[6,3,2,3],"interpolate":"monotone","clip":true},
 "encoding":{"x":{"field":"p","type":"quantitative"},"y":{"field":"l","type":"quantitative"}}},
{"data":{"name":"wm"},"mark":{"type":"text","angle":-44,"fontSize":21.5,"font":"Liberation Sans","color":"#222"},
 "encoding":{"x":{"field":"p","type":"quantitative"},"y":{"field":"m","type":"quantitative"},"text":{"field":"t"}}}
]
}
